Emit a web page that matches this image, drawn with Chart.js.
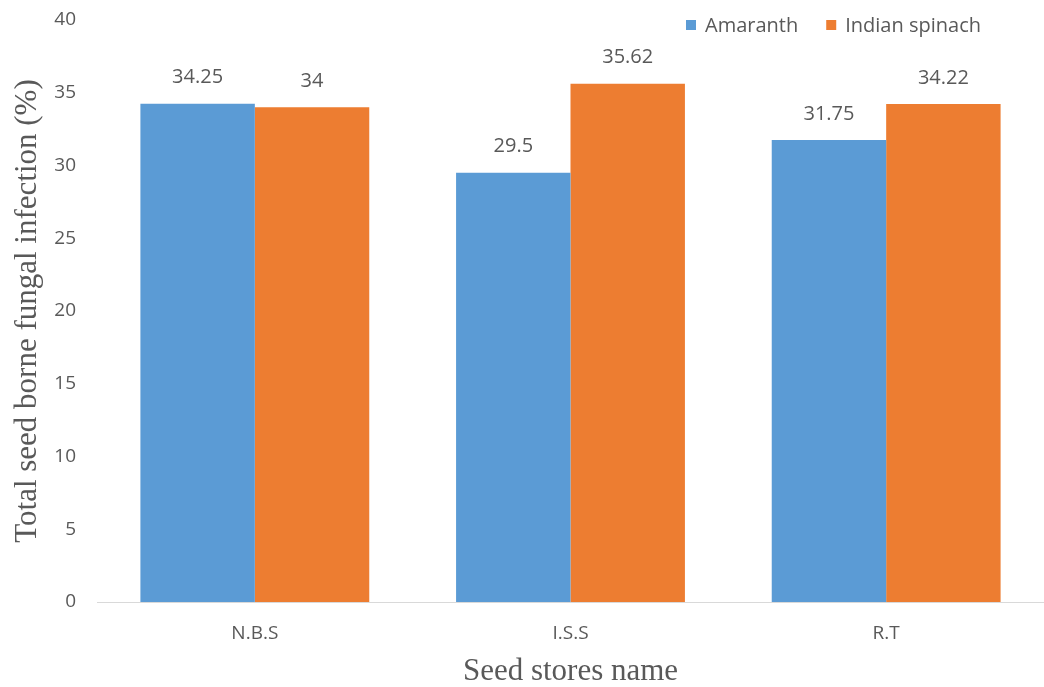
<!DOCTYPE html>
<html>
<head>
<meta charset="utf-8">
<script src="https://cdn.jsdelivr.net/npm/chart.js@4"></script>
<style>
  html, body { margin: 0; padding: 0; background: #fff; }
  #wrap { width: 1044px; height: 687px; position: relative; }
</style>
</head>
<body>
<div id="wrap"><canvas id="myChart"></canvas></div>
<script>
var stores = ["N.B.S", "I.S.S", "R.T"];
var amaranth = [34.25, 29.5, 31.75];
var indianSpinach = [34, 35.62, 34.22];
var seriesNames = ["Amaranth", "Indian spinach"];

var grey = "#595959";
var sans = "'Open Sans', sans-serif";
var serif = "'Liberation Serif', 'Times New Roman', serif";

// value printed above every bar
var barLabels = {
  id: "barLabels",
  afterDatasetsDraw: function(chart) {
    var ctx = chart.ctx;
    ctx.save();
    ctx.font = "20px " + sans;
    ctx.fillStyle = grey;
    ctx.textAlign = "center";
    ctx.textBaseline = "middle";
    chart.data.datasets.forEach(function(ds, i) {
      chart.getDatasetMeta(i).data.forEach(function(bar, j) {
        ctx.fillText(String(ds.data[j]), bar.x, bar.y - 26);
      });
    });
    ctx.restore();
  }
};

// small legend in the upper right, drawn over the plot
var topLegend = {
  id: "topLegend",
  afterDraw: function(chart) {
    var ctx = chart.ctx;
    ctx.save();
    ctx.font = "20px " + sans;
    ctx.textBaseline = "middle";
    var x = 686;
    chart.data.datasets.forEach(function(ds) {
      ctx.fillStyle = ds.backgroundColor;
      ctx.fillRect(x, 20, 10, 10);
      ctx.fillStyle = grey;
      ctx.fillText(ds.label, x + 19, 26);
      x += 19 + ctx.measureText(ds.label).width + 28;
    });
    ctx.restore();
  }
};

window.onload = function() {
  var ctx = document.getElementById("myChart").getContext("2d");
  new Chart(ctx, {
    type: "bar",
    data: {
      labels: stores,
      datasets: [
        {
          label: seriesNames[0],
          backgroundColor: "#5B9BD5",
          data: amaranth,
          categoryPercentage: 0.725,
          barPercentage: 1
        },
        {
          label: seriesNames[1],
          backgroundColor: "#ED7D31",
          data: indianSpinach,
          categoryPercentage: 0.725,
          barPercentage: 1
        }
      ]
    },
    options: {
      responsive: true,
      maintainAspectRatio: false,
      animation: false,
      layout: { padding: { top: 20, left: 0, right: 0, bottom: 0 } },
      plugins: {
        legend: { display: false },
        tooltip: { enabled: false }
      },
      scales: {
        x: {
          grid: { display: false, drawTicks: false },
          border: { display: true, color: "#d9d9d9", width: 1 },
          ticks: { color: grey, font: { family: sans, size: 19 }, padding: 20 },
          title: {
            display: true,
            text: "Seed stores name",
            color: grey,
            font: { family: serif, size: 31, lineHeight: 1 },
            padding: { top: 0, bottom: 0 }
          },
          afterFit: function(s) { s.height = 85; }
        },
        y: {
          min: 0,
          max: 40,
          // tick marks stay hidden; their length only spaces the labels
          grid: { display: false, drawTicks: true, tickLength: 21 },
          border: { display: false },
          ticks: { stepSize: 5, color: grey, font: { family: sans, size: 19 }, padding: 0 },
          title: {
            display: true,
            text: "Total seed borne fungal infection (%)",
            color: grey,
            font: { family: serif, size: 31, lineHeight: 1 },
            padding: { top: 12, bottom: 0 }
          },
          afterFit: function(s) { s.width = 97; }
        }
      }
    },
    plugins: [barLabels, topLegend]
  });
};
</script>
</body>
</html>
